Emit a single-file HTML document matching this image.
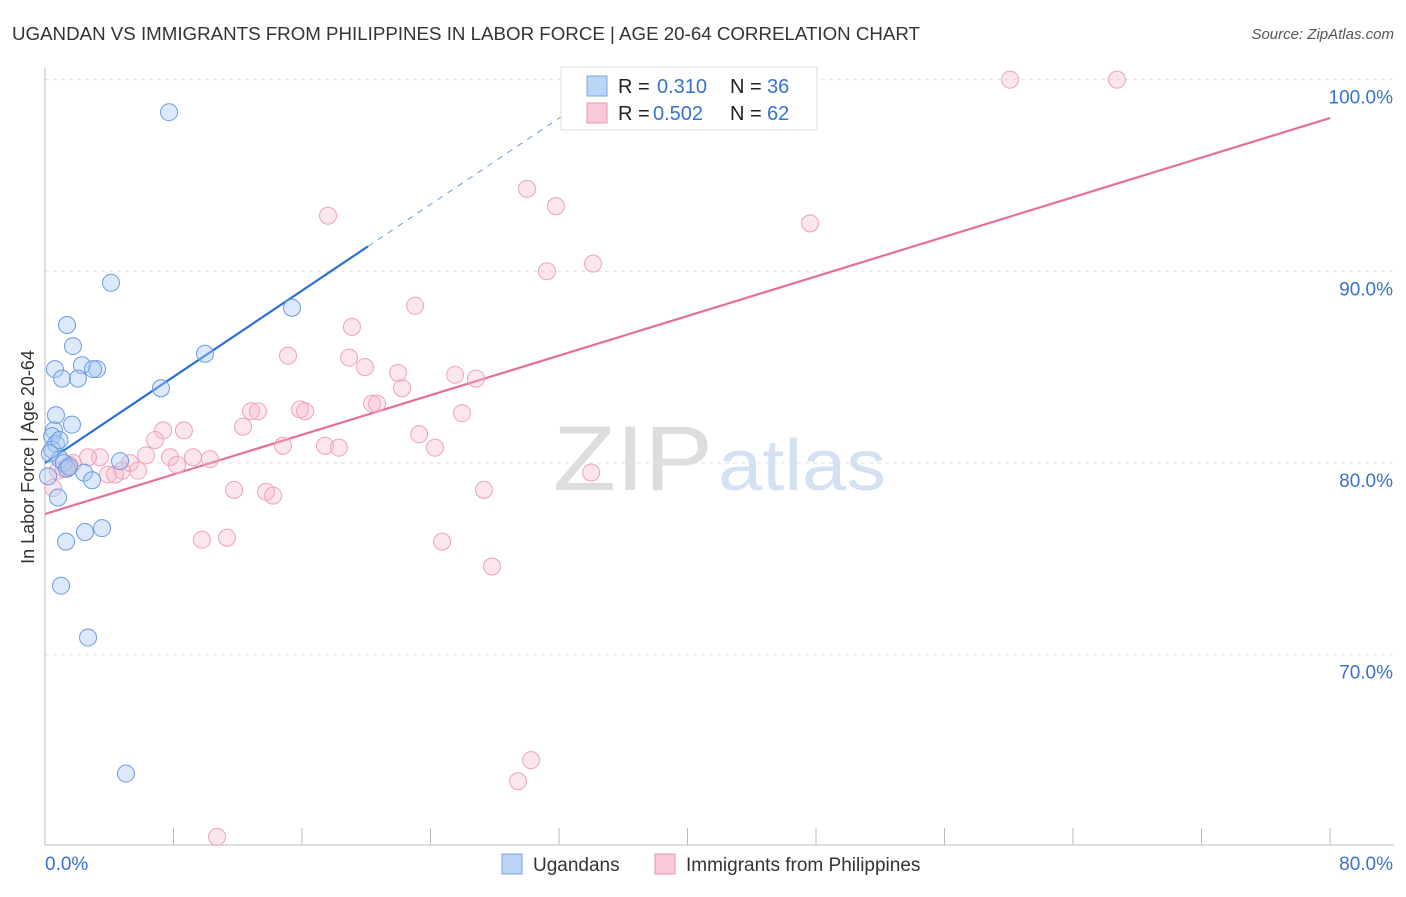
<!DOCTYPE html>
<html><head><meta charset="utf-8">
<style>
body{margin:0;background:#fff;font-family:"Liberation Sans",sans-serif;}
svg text{font-family:"Liberation Sans",sans-serif;}
</style></head>
<body>
<svg id="chart" width="1406" height="892" xmlns="http://www.w3.org/2000/svg">
<text x="12" y="40" font-size="18" fill="#333" textLength="908" lengthAdjust="spacingAndGlyphs">UGANDAN VS IMMIGRANTS FROM PHILIPPINES IN LABOR FORCE | AGE 20-64 CORRELATION CHART</text>
<text x="1394" y="39" font-size="15" fill="#555" text-anchor="end" font-style="italic">Source: ZipAtlas.com</text>
<g>
<text x="553" y="490" font-size="92" fill="#ddd" font-family="Liberation Serif" textLength="160" lengthAdjust="spacingAndGlyphs">ZIP</text>
<text x="718" y="490" font-size="72" fill="#d3e1f2" textLength="168" lengthAdjust="spacingAndGlyphs">atlas</text>
</g>
<g id="grid"></g>
<g id="axes"></g>
<g id="lines"></g>
<g id="pts"></g>
<text transform="translate(34,457) rotate(-90)" font-size="18" fill="#333" text-anchor="middle">In Labor Force | Age 20-64</text>
<g>
<rect x="561" y="67" width="256" height="63" fill="#fff" stroke="#ddd"/>
<rect x="587" y="76" width="20" height="20" fill="#bcd4f5" stroke="#7aa6e6"/>
<rect x="587" y="103" width="20" height="20" fill="#f9c9d8" stroke="#eb93b0"/>
<text x="618" y="93" font-size="20" fill="#222">R = </text><text x="657" y="93" font-size="20" fill="#3b72c9">0.310</text>
<text x="730" y="93" font-size="20" fill="#222">N = </text><text x="767" y="93" font-size="20" fill="#3b72c9">36</text>
<text x="618" y="120" font-size="20" fill="#222">R = </text><text x="653" y="120" font-size="20" fill="#3b72c9">0.502</text>
<text x="730" y="120" font-size="20" fill="#222">N = </text><text x="767" y="120" font-size="20" fill="#3b72c9">62</text>
</g>
<g>
<rect x="502" y="854" width="20" height="20" fill="#bcd4f5" stroke="#7aa6e6"/>
<text x="533" y="871" font-size="19" fill="#333">Ugandans</text>
<rect x="655" y="854" width="20" height="20" fill="#f9c9d8" stroke="#eb93b0"/>
<text x="686" y="871" font-size="19" fill="#333">Immigrants from Philippines</text>
</g>
</svg>
<script>
const yTicks=[70,80,90,100];
const xTickLabels=["0.0%","80.0%"];
const blueX=[7.72,4.11,1.37,1.74,2.30,3.24,2.99,0.62,1.06,2.05,7.22,9.96,15.38,0.68,1.68,0.56,0.44,0.68,0.44,0.93,1.18,1.37,2.43,2.93,4.67,0.19,0.81,1.31,2.49,3.55,1.0,2.68,5.04,0.3,1.5,0.9];
const blueY=[98.3,89.4,87.2,86.1,85.1,84.9,84.9,84.9,84.4,84.4,83.9,85.7,88.1,82.5,82.0,81.7,81.4,81.0,80.7,80.2,80.0,79.7,79.5,79.1,80.1,79.3,78.2,75.9,76.4,76.6,73.6,70.9,63.8,80.5,79.8,81.2];
const pinkX=[60.08,66.74,47.63,30.01,31.81,17.62,31.25,34.12,23.04,19.11,15.13,18.93,19.92,21.98,25.53,26.83,22.23,20.36,20.67,12.83,13.26,15.88,16.19,25.96,12.33,7.35,8.65,23.29,6.85,14.82,17.43,18.30,24.28,6.29,7.78,9.21,10.27,3.42,2.68,1.74,5.29,8.22,1.18,0.81,4.79,5.79,3.92,4.36,34.0,0.5,11.77,13.76,14.20,27.33,9.77,11.33,24.72,27.83,30.26,29.45,10.71,1.5];
const pinkY=[100,100,92.5,94.3,93.4,92.9,90.0,90.4,88.2,87.1,85.6,85.5,85.0,84.7,84.6,84.4,83.9,83.1,83.1,82.7,82.7,82.8,82.7,82.6,81.9,81.7,81.7,81.5,81.2,80.9,80.9,80.8,80.8,80.4,80.3,80.3,80.2,80.3,80.3,80.0,80.0,79.9,79.7,79.6,79.6,79.6,79.4,79.4,79.5,78.7,78.6,78.5,78.3,78.6,76.0,76.1,75.9,74.6,64.5,63.4,60.5,79.9];
const blueTrend=[80.0,0.562];
const pinkTrend=[77.34,0.2582];
const NS="http://www.w3.org/2000/svg";
const sx=v=>45+v*(1285/80);
const sy=v=>79.6+(100-v)*19.17;
function mk(tag,attrs,parent){const e=document.createElementNS(NS,tag);for(const k in attrs)e.setAttribute(k,attrs[k]);parent.appendChild(e);return e;}
const grid=document.getElementById('grid'),axes=document.getElementById('axes'),lines=document.getElementById('lines'),pts=document.getElementById('pts');
yTicks.forEach(t=>{
 const l=mk('line',{x1:45,x2:1394,y1:sy(t),y2:sy(t),stroke:'#e2e2e2','stroke-dasharray':'4,4'},grid);
 
 
 const tx=mk('text',{x:1393,y:sy(t)+24,'font-size':19,fill:'#3b72c9','text-anchor':'end'},grid);
 tx.textContent=t.toFixed(1)+'%';
 
 
});
mk('line',{x1:45,x2:45,y1:68,y2:845,stroke:'#bbb'},axes);
mk('line',{x1:45,x2:1394,y1:845,y2:845,stroke:'#bbb'},axes);
for(let i=0;i<=10;i++){mk('line',{x1:sx(i*8),x2:sx(i*8),y1:828,y2:845,stroke:'#bbb'},axes);}
const xl0=mk('text',{x:45,y:870,'font-size':19,fill:'#3b72c9'},axes);xl0.textContent=xTickLabels[0];


const xl1=mk('text',{x:1393,y:870,'font-size':19,fill:'#3b72c9','text-anchor':'end'},axes);xl1.textContent=xTickLabels[1];


pinkX.forEach((x,i)=>{const c=mk('circle',{cx:sx(x),cy:sy(pinkY[i]),r:8.5,fill:'rgba(247,182,203,0.35)',stroke:'#eea3bb','stroke-width':1},pts);
 
 });
blueX.forEach((x,i)=>{const c=mk('circle',{cx:sx(x),cy:sy(blueY[i]),r:8.5,fill:'rgba(168,199,242,0.4)',stroke:'#6d9be0','stroke-width':1},pts);
 
 });
const bl=mk('line',{x1:sx(0),y1:sy(blueTrend[0]),x2:sx(20.1),y2:sy(blueTrend[0]+blueTrend[1]*20.1),stroke:'#2b6fd6','stroke-width':2.2},lines);


const bd=mk('line',{x1:sx(20.1),y1:sy(blueTrend[0]+blueTrend[1]*20.1),x2:sx(35.6),y2:sy(blueTrend[0]+blueTrend[1]*35.6),stroke:'#6d9be0','stroke-width':1,'stroke-dasharray':'6,6'},lines);


const pl=mk('line',{x1:sx(0),y1:sy(pinkTrend[0]),x2:sx(80),y2:sy(pinkTrend[0]+pinkTrend[1]*80),stroke:'#e46f98','stroke-width':2.2},lines);


</script>
</body></html>
